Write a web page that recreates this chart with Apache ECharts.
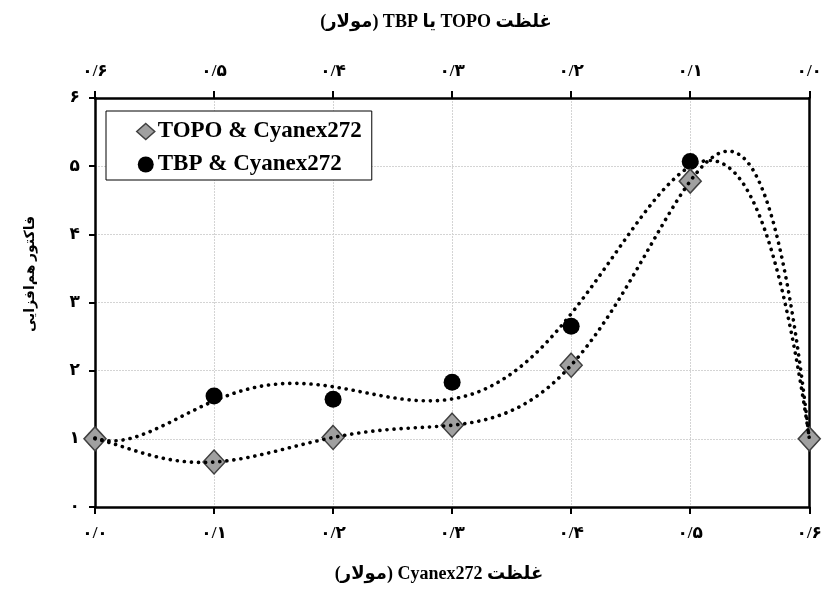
<!DOCTYPE html>
<html>
<head>
<meta charset="utf-8">
<script src="https://cdn.jsdelivr.net/npm/echarts@6/dist/echarts.min.js"></script>
<style>
html,body{margin:0;padding:0;background:#fff;}
#c{width:825px;height:594px;}
</style>
</head>
<body>
<div id="c"></div>
<script>
// ---- data ----
var xValues = [0, 0.1, 0.2, 0.3, 0.4, 0.5, 0.6];
var topoValues = [1.0, 0.66, 1.02, 1.20, 2.08, 4.78, 1.0];
var tbpValues = [1.0, 1.63, 1.58, 1.83, 2.65, 5.07, 1.0];
var xTickLabels = ['۰/۰', '۰/۱', '۰/۲', '۰/۳', '۰/۴', '۰/۵', '۰/۶'];
var yTickLabels = ['۰', '۱', '۲', '۳', '۴', '۵', '۶'];
var seriesNames = ['TOPO & Cyanex272', 'TBP & Cyanex272'];
var bottomTitle = 'غلظت Cyanex272 (مولار)';
var topTitle = 'غلظت TOPO یا TBP (مولار)';
var yTitle = 'فاکتور هم‌افزایی';
var topoTrendOrder = 6;
var tbpTrendOrder = 5;

// least-squares polynomial trendline fitted to the points
function polyFit(xs, ys, order) {
  var n = order + 1, A = [], b = [];
  for (var r = 0; r < n; r++) {
    A.push([]); b.push(0);
    for (var c = 0; c < n; c++) {
      var s = 0;
      for (var k = 0; k < xs.length; k++) s += Math.pow(xs[k] * 10, r + c);
      A[r].push(s);
    }
    for (var k2 = 0; k2 < xs.length; k2++) b[r] += ys[k2] * Math.pow(xs[k2] * 10, r);
  }
  for (var i = 0; i < n; i++) {
    var p = i;
    for (var j = i + 1; j < n; j++) if (Math.abs(A[j][i]) > Math.abs(A[p][i])) p = j;
    var t = A[i]; A[i] = A[p]; A[p] = t; var tb = b[i]; b[i] = b[p]; b[p] = tb;
    for (var j2 = i + 1; j2 < n; j2++) {
      var f = A[j2][i] / A[i][i];
      for (var c2 = i; c2 < n; c2++) A[j2][c2] -= f * A[i][c2];
      b[j2] -= f * b[i];
    }
  }
  var coef = new Array(n);
  for (var i2 = n - 1; i2 >= 0; i2--) {
    var s2 = b[i2];
    for (var c3 = i2 + 1; c3 < n; c3++) s2 -= A[i2][c3] * coef[c3];
    coef[i2] = s2 / A[i2][i2];
  }
  return coef;
}
function polyTrend(xs, ys, order, steps) {
  var coef = polyFit(xs, ys, order), out = [];
  var x0 = xs[0], x1 = xs[xs.length - 1];
  for (var s = 0; s <= steps; s++) {
    var x = x0 + (x1 - x0) * s / steps, y = 0;
    for (var i = 0; i < coef.length; i++) y += coef[i] * Math.pow(x * 10, i);
    out.push([x, y]);
  }
  return out;
}
function pairs(xs, ys) { return xs.map(function (x, i) { return [x, ys[i]]; }); }

var RLE = '\u202B', PDF = '\u202C';
var FONT = '"Liberation Serif", "DejaVu Sans", serif';
var labelStyle = { fontFamily: FONT, fontWeight: 'bold', fontSize: 17, color: '#000' };
var axisLineStyle = { color: '#000', width: 2.5 };
var dotLine = { color: '#000', width: 3.6, type: [0.1, 7], cap: 'round' };

var chart = echarts.init(document.getElementById('c'));
chart.setOption({
  backgroundColor: '#fff',
  animation: false,
  grid: { left: 95, right: 9, top: 98, bottom: 87 },
  legend: {
    orient: 'vertical',
    left: 106, top: 111,
    padding: [9, 10, 4, 30],
    itemGap: 10,
    itemWidth: 18, itemHeight: 16,
    backgroundColor: '#fff',
    borderColor: '#000', borderWidth: 1,
    textStyle: { fontFamily: FONT, fontWeight: 'bold', fontSize: 23, color: '#000', padding: [0, 0, 0, -2] },
    data: [
      { name: seriesNames[0], icon: 'diamond', itemStyle: { color: '#a0a0a0', borderColor: '#404040', borderWidth: 1.5 } },
      { name: seriesNames[1], icon: 'circle', itemStyle: { color: '#000' } }
    ]
  },
  xAxis: [
    {
      type: 'value', position: 'bottom', min: 0, max: 0.6, interval: 0.1,
      axisLine: { show: true, onZero: false, lineStyle: axisLineStyle },
      axisTick: { show: true, length: 7, lineStyle: { color: '#000', width: 2 } },
      axisLabel: Object.assign({ margin: 18, formatter: function (v) { return xTickLabels[Math.round(v * 10)]; } }, labelStyle),
      splitLine: { show: true, lineStyle: { color: '#d4d4d4', width: 1, type: [2, 1] } }
    },
    {
      type: 'value', position: 'top', inverse: true, min: 0, max: 0.6, interval: 0.1,
      axisLine: { show: true, onZero: false, lineStyle: axisLineStyle },
      axisTick: { show: true, length: 7, lineStyle: { color: '#000', width: 2 } },
      axisLabel: Object.assign({ margin: 18, formatter: function (v) { return xTickLabels[Math.round(v * 10)]; } }, labelStyle),
      splitLine: { show: false }
    }
  ],
  yAxis: [
    {
      type: 'value', position: 'left', min: 0, max: 6, interval: 1,
      axisLine: { show: true, onZero: false, lineStyle: axisLineStyle },
      axisTick: { show: true, length: 6, lineStyle: { color: '#000', width: 2 } },
      axisLabel: Object.assign({ margin: 15, formatter: function (v) { return yTickLabels[Math.round(v)]; } }, labelStyle),
      splitLine: { show: true, lineStyle: { color: '#d4d4d4', width: 1, type: [2, 1] } }
    },
    {
      type: 'value', position: 'right', min: 0, max: 6, interval: 1,
      axisLine: { show: true, onZero: false, lineStyle: axisLineStyle },
      axisTick: { show: false }, axisLabel: { show: false }, splitLine: { show: false }
    }
  ],
  graphic: [
    {
      type: 'text', x: 436, y: 22, z: 10,
      style: { text: RLE + topTitle + PDF, fontFamily: FONT, fontWeight: 'bold', fontSize: 18, fill: '#000', align: 'center', verticalAlign: 'middle' }
    },
    {
      type: 'text', x: 439, y: 574, z: 10,
      style: { text: RLE + bottomTitle + PDF, fontFamily: FONT, fontWeight: 'bold', fontSize: 18, fill: '#000', align: 'center', verticalAlign: 'middle' }
    },
    {
      type: 'text', x: 30, y: 274, rotation: Math.PI / 2, z: 10,
      style: { text: RLE + yTitle + PDF, fontFamily: FONT, fontWeight: 'bold', fontSize: 14, fill: '#000', align: 'center', verticalAlign: 'middle' }
    }
  ],
  series: [
    {
      name: seriesNames[1], type: 'scatter', data: pairs(xValues, tbpValues),
      symbol: 'circle', symbolSize: 17, itemStyle: { color: '#000', opacity: 1 }, z: 3
    },
    {
      name: seriesNames[0], type: 'scatter', data: pairs(xValues, topoValues),
      symbol: 'diamond', symbolSize: [22, 24], itemStyle: { color: '#a0a0a0', borderColor: '#404040', borderWidth: 1.5, opacity: 1 }, z: 4
    },
    {
      name: seriesNames[0] + ' trend', type: 'line', data: polyTrend(xValues, topoValues, topoTrendOrder, 240),
      showSymbol: false, symbol: 'none', lineStyle: dotLine, z: 5, silent: true
    },
    {
      name: seriesNames[1] + ' trend', type: 'line', data: polyTrend(xValues, tbpValues, tbpTrendOrder, 240),
      showSymbol: false, symbol: 'none', lineStyle: dotLine, z: 5, silent: true
    }
  ]
});
</script>
</body>
</html>
